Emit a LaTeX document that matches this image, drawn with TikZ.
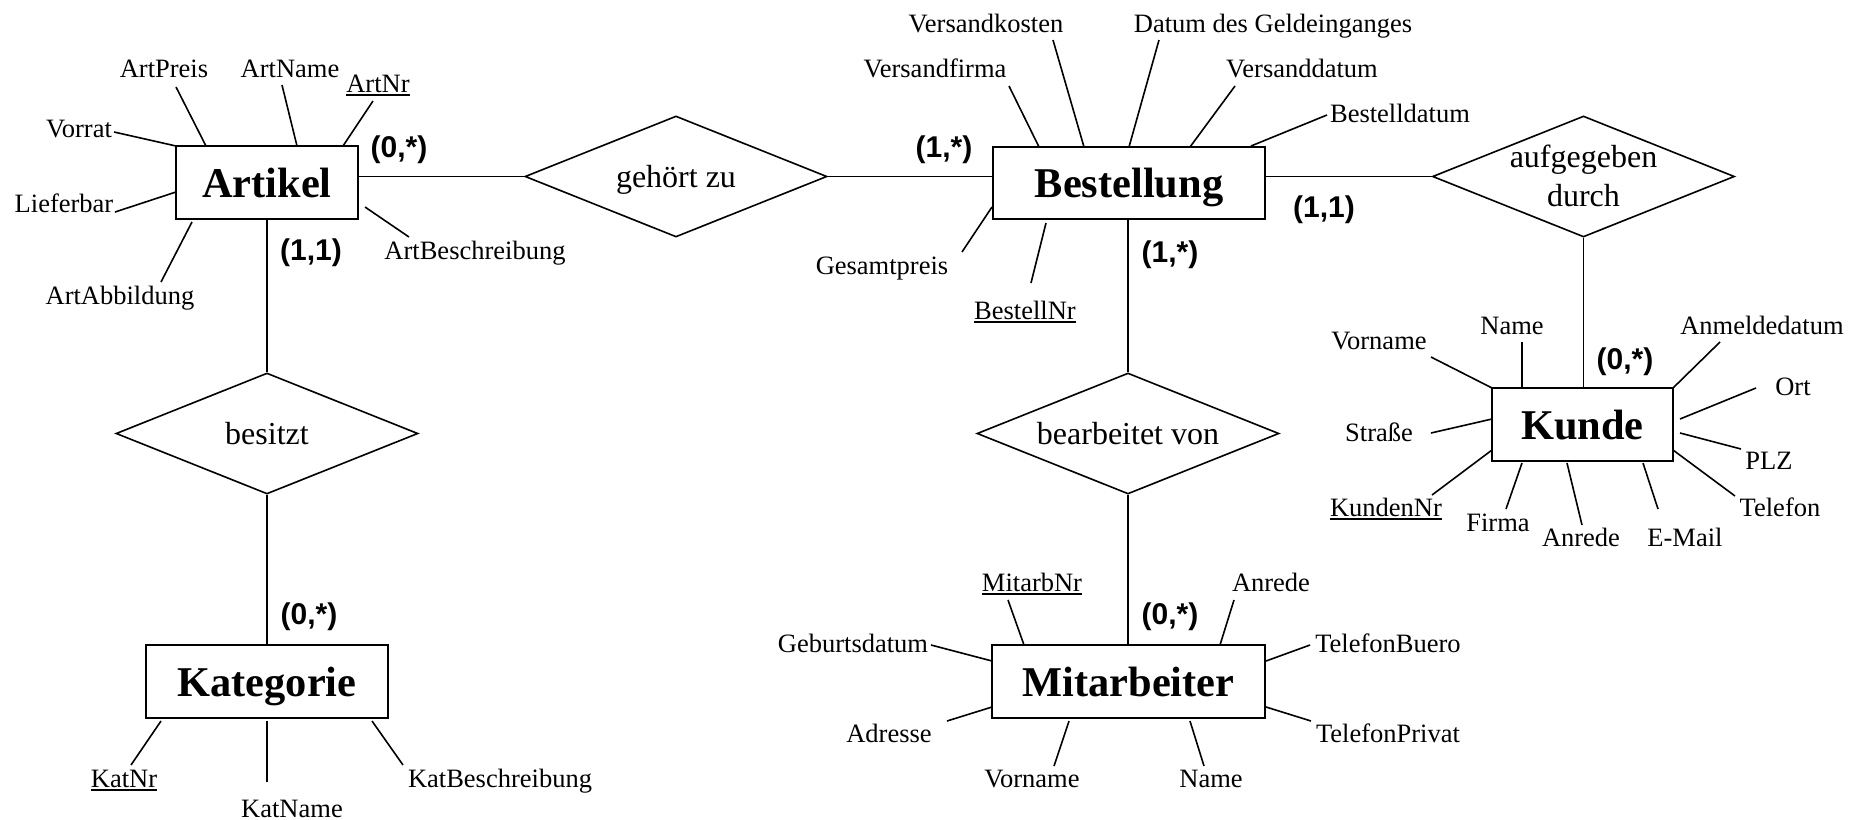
\documentclass[tikz,border=0pt]{standalone}
\usepackage{fontspec}
\setmainfont{Liberation Serif}
\newfontfamily\cardfont{Liberation Sans}
\usetikzlibrary{shapes.geometric,calc}
\newsavebox\keybox
\newcommand\keyattr[1]{\sbox\keybox{#1}\rlap{\rule[-1.7pt]{\wd\keybox}{0.85pt}}\usebox\keybox}
\newcommand\attrln[4]{\draw[conn] ($(#1)+(#2)$) -- ($(#3)+(#4)$);}
\begin{document}
\begin{tikzpicture}[x=0.5pt,y=-0.5pt,
  entity/.style={draw, line width=1pt, rectangle, inner sep=0pt, font=\fontsize{21.2}{24}\selectfont\bfseries, text height=14.6pt, text depth=0pt},
  rel/.style={draw, diamond, aspect=2.5, line width=0.8pt, inner sep=0pt, minimum width=151pt, minimum height=60.5pt, font=\fontsize{16}{19.5}\selectfont, align=center, text height=10.9pt, text depth=0pt},
  attr/.style={inner sep=0pt, font=\fontsize{13.25}{15}\selectfont, text height=9.1pt, text depth=0pt},
  card/.style={inner sep=0pt, font=\cardfont\fontsize{15}{17}\selectfont\bfseries},
  conn/.style={line width=0.8pt}]
\fill[white] (0,0) rectangle (1860,820);
\useasboundingbox (0,0) rectangle (1860,820);

% entities
\node[entity, minimum width=91pt, minimum height=36.5pt] (Artikel) at (267,182.5) {Artikel};
\node[entity, minimum width=136pt, minimum height=36pt] (Bestellung) at (1129,183) {Bestellung};
\node[entity, minimum width=90.5pt, minimum height=36.5pt] (Kunde) at (1582.5,424.5) {Kunde};
\node[entity, minimum width=121pt, minimum height=36.5pt] (Kategorie) at (267,681.5) {Kategorie};
\node[entity, minimum width=136.5pt, minimum height=36.5pt] (Mitarbeiter) at (1128.5,681.5) {Mitarbeiter};

% relationships
\node[rel] (gz) at (676,176.5) {gehört zu};
\node[rel, text height=30.4pt] (ad) at (1583.5,176.5) {aufgegeben\\durch};
\node[rel] (bs) at (267,433.5) {besitzt};
\node[rel] (bv) at (1128,433.5) {bearbeitet von};

% connectors
\draw[conn] (Artikel.east |- gz.west) -- (gz.west);
\draw[conn] (gz.east) -- (gz.east -| Bestellung.west);
\draw[conn] (Bestellung.east |- ad.west) -- (ad.west);
\draw[conn] (ad.south) -- (ad.south |- Kunde.north);
\draw[conn] (Artikel.south) -- (bs.north);
\draw[conn] (bs.south) -- (Kategorie.north);
\draw[conn] (bv.north |- Bestellung.south) -- (bv.north);
\draw[conn] (bv.south) -- (bv.south |- Mitarbeiter.north);

% cardinalities
\node[card] (c1) at (399,150) {(0,*)};
\node[card] (c2) at (311,253) {(1,1)};
\node[card] (c3) at (309,617) {(0,*)};
\node[card] (c4) at (944,150) {(1,*)};
\node[card] (c5) at (1324,210) {(1,1)};
\node[card] (c6) at (1170,255) {(1,*)};
\node[card] (c7) at (1170,617) {(0,*)};
\node[card] (c8) at (1625,362) {(0,*)};

% Artikel attributes
\node[attr] (aVorrat) at (79,128) {Vorrat};
\node[attr] (aPreis) at (164,68) {ArtPreis};
\node[attr] (aName) at (290,68) {ArtName};
\node[attr] (aNr) at (378,83) {\keyattr{ArtNr}};
\node[attr] (aLief) at (64,203) {Lieferbar};
\node[attr] (aAbb) at (120,295) {ArtAbbildung};
\node[attr] (aBes) at (475,250) {ArtBeschreibung};
\attrln{aVorrat}{35,4}{Artikel}{-91,-36.5}
\attrln{aPreis}{12,19}{Artikel}{-61,-36.5}
\attrln{aName}{-8,17}{Artikel}{30,-36.5}
\attrln{aNr}{-5,18}{Artikel}{76,-36.5}
\attrln{aLief}{51,9}{Artikel}{-91,9.5}
\attrln{aAbb}{41,-13}{Artikel}{-75,39.5}
\attrln{aBes}{-66,-13}{Artikel}{98,24.5}

% Bestellung attributes
\node[attr] (bKost) at (986,23) {Versandkosten};
\node[attr] (bGeld) at (1273,23) {Datum des Geldeinganges};
\node[attr] (bFirma) at (935,68) {Versandfirma};
\node[attr] (bVDat) at (1302,68) {Versanddatum};
\node[attr] (bBDat) at (1400,113) {Bestelldatum};
\node[attr] (bPreis) at (882,265) {Gesamtpreis};
\node[attr] (bNr) at (1025,310) {\keyattr{BestellNr}};
\attrln{bKost}{67,17}{Bestellung}{-45,-36}
\attrln{bGeld}{-114,17}{Bestellung}{0,-36}
\attrln{bFirma}{74,18}{Bestellung}{-90,-36}
\attrln{bVDat}{-67,18}{Bestellung}{61,-36}
\attrln{bBDat}{-73,2}{Bestellung}{122,-37}
\attrln{bPreis}{80,-13}{Bestellung}{-137,24}
\attrln{bNr}{6,-27}{Bestellung}{-83,40}

% Kunde attributes
\node[attr] (kName) at (1512,325) {Name};
\node[attr] (kVorname) at (1379,340) {Vorname};
\node[attr] (kAnm) at (1762,325) {Anmeldedatum};
\node[attr] (kOrt) at (1793,386) {Ort};
\node[attr] (kStr) at (1379,432) {Straße};
\node[attr] (kPLZ) at (1769,460) {PLZ};
\node[attr] (kNr) at (1386,507) {\keyattr{KundenNr}};
\node[attr] (kFirma) at (1498,522) {Firma};
\node[attr] (kAnrede) at (1581,537) {Anrede};
\node[attr] (kMail) at (1685,537) {E-Mail};
\node[attr] (kTel) at (1780,507) {Telefon};
\attrln{kName}{10,17}{Kunde}{-60.5,-36.5}
\attrln{kVorname}{52,17}{Kunde}{-90.5,-36.5}
\attrln{kAnm}{-42,17}{Kunde}{90.5,-36.5}
\attrln{kOrt}{-37,2}{Kunde}{97.5,-5.5}
\attrln{kStr}{52,1}{Kunde}{-90.5,-5.5}
\attrln{kPLZ}{-28,-11}{Kunde}{97.5,8.5}
\attrln{kNr}{46,-12}{Kunde}{-90.5,25.5}
\attrln{kFirma}{8,-13}{Kunde}{-60.5,38.5}
\attrln{kAnrede}{1,-12}{Kunde}{-15.5,38.5}
\attrln{kMail}{-27,-28}{Kunde}{60.5,38.5}
\attrln{kTel}{-45,-11}{Kunde}{90.5,25.5}

% Kategorie attributes
\node[attr] (katNr) at (124,778) {\keyattr{KatNr}};
\node[attr] (katName) at (292,808) {KatName};
\node[attr] (katBes) at (500,778) {KatBeschreibung};
\attrln{katNr}{7,-13}{Kategorie}{-106,39.5}
\attrln{katName}{-25,-26}{Kategorie}{0,39.5}
\attrln{katBes}{-97,-13}{Kategorie}{105,39.5}

% Mitarbeiter attributes
\node[attr] (mNr) at (1032,582) {\keyattr{MitarbNr}};
\node[attr] (mAnrede) at (1271,582) {Anrede};
\node[attr] (mGeb) at (853,643) {Geburtsdatum};
\node[attr] (mTelB) at (1388,643) {TelefonBuero};
\node[attr] (mAdr) at (889,733) {Adresse};
\node[attr] (mTelP) at (1388,733) {TelefonPrivat};
\node[attr] (mVorname) at (1032,778) {Vorname};
\node[attr] (mName) at (1211,778) {Name};
\attrln{mNr}{-24,18}{Mitarbeiter}{-104.5,-36.5}
\attrln{mAnrede}{-37,18}{Mitarbeiter}{91.5,-36.5}
\attrln{mGeb}{78,2}{Mitarbeiter}{-136.5,-20.5}
\attrln{mTelB}{-78,2}{Mitarbeiter}{137.5,-20.5}
\attrln{mAdr}{58,-12}{Mitarbeiter}{-136.5,25.5}
\attrln{mTelP}{-77,-12}{Mitarbeiter}{137.5,25.5}
\attrln{mVorname}{22,-12}{Mitarbeiter}{-59.5,39.5}
\attrln{mName}{-7,-12}{Mitarbeiter}{61.5,39.5}
\end{tikzpicture}
\end{document}
